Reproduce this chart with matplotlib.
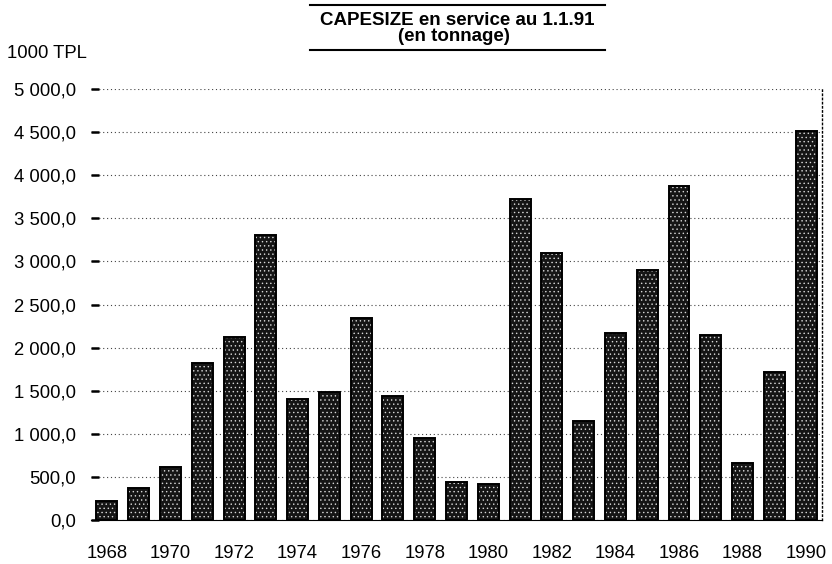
import matplotlib
matplotlib.use("Agg")
import matplotlib.pyplot as plt
from matplotlib.lines import Line2D
from matplotlib.ticker import FuncFormatter

# tonnage en service (1000 TPL) par annee de construction
years = list(range(1968, 1991))
tonnage = [220, 370, 615, 1820, 2125, 3310, 1405, 1485, 2345, 1440,
           955, 440, 420, 3730, 3100, 1150, 2170, 2900, 3870, 2145,
           660, 1715, 4510]
xticks = list(range(1968, 1991, 2))
yticks = [0, 500, 1000, 1500, 2000, 2500, 3000, 3500, 4000, 4500, 5000]

plt.rcParams['font.family'] = ['Liberation Sans', 'DejaVu Sans']
plt.rcParams['hatch.linewidth'] = 0.5

fig = plt.figure(figsize=(8.32, 5.64), dpi=100)
ax = fig.add_axes([0.1094, 0.078, 0.8786, 0.764])


def fmt_fr(v, pos):
    s = f"{v:,.1f}"
    return s.replace(",", " ").replace(".", ",")


# stippled fill, then a black outline on top
ax.bar(years, tonnage, width=0.66, color='#151515', edgecolor='#d8d8d8',
       linewidth=0, hatch='....', zorder=3)
ax.bar(years, tonnage, width=0.66, fill=False, edgecolor='black',
       linewidth=1.4, zorder=4)

ax.set_xlim(1967.5, 1990.5)
ax.set_ylim(0, 5000)
ax.set_xticks(xticks)
ax.set_yticks(yticks)
ax.yaxis.set_major_formatter(FuncFormatter(fmt_fr))

ax.grid(axis='y', color='#444444', linestyle=(0, (1, 2.5)), linewidth=0.8, zorder=1)
ax.tick_params(axis='y', direction='in', length=6, width=1.8, pad=11, labelsize=13.3)
ax.tick_params(axis='x', length=0, pad=18, labelsize=13.3)

ax.spines['left'].set_visible(False)
ax.spines['top'].set_visible(False)
ax.spines['right'].set_linestyle((0, (1, 2)))
ax.spines['right'].set_linewidth(1.0)
ax.spines['bottom'].set_linewidth(0.8)

# titre encadre
fig.add_artist(Line2D([0.3726, 0.7272], [0.9911, 0.9911], color='black', lw=1.5))
fig.add_artist(Line2D([0.3726, 0.7272], [0.9113, 0.9113], color='black', lw=1.5))
fig.text(0.55, 0.9645, "CAPESIZE en service au 1.1.91", ha='center', va='center',
         fontsize=13.5, fontweight='bold')
fig.text(0.546, 0.936, "(en tonnage)", ha='center', va='center',
         fontsize=13.5, fontweight='bold')
fig.text(0.0084, 0.905, "1000 TPL", ha='left', va='center', fontsize=13.3)

fig.savefig("out.png", dpi=100)
